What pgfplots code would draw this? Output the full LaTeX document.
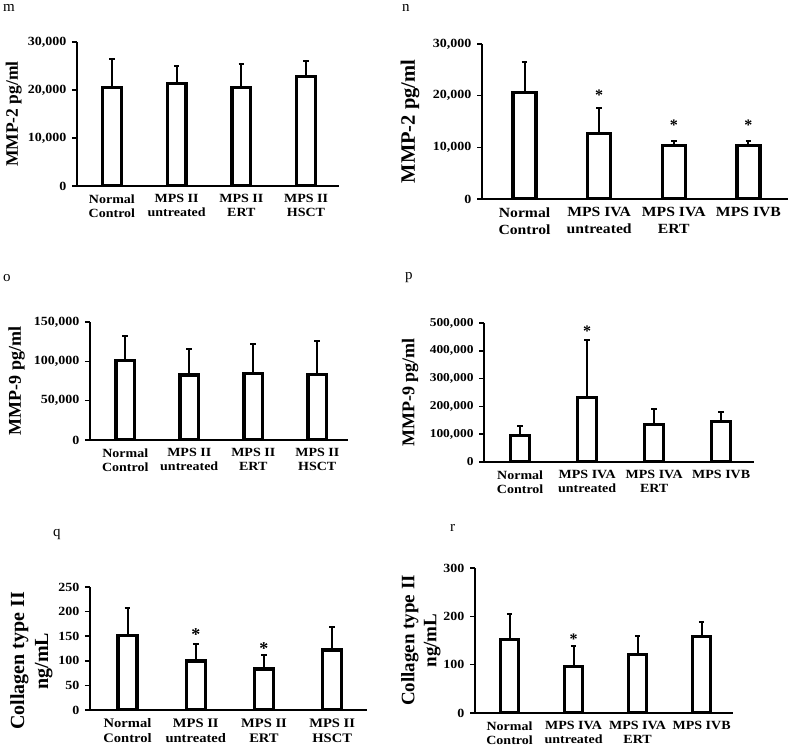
\documentclass[border=0pt]{standalone}
\usepackage{fontspec}
\setmainfont{Liberation Serif}
\newfontfamily\wfont{Liberation Serif}[FakeStretch=1.12]
\usepackage{pgfplots}
\pgfplotsset{compat=1.18}
\newcommand\fnt[2]{\wfont\bfseries\fontsize{#1}{#2}\selectfont}
\newcommand\lfnt[2]{\bfseries\fontsize{#1}{#2}\selectfont}
\pgfplotsset{
  panel/.style={
    scale only axis, anchor=south west,
    axis lines=left, axis line style={-, line width=1.8pt},
    tick align=outside, major tick length=5pt,
    ytick style={line width=1.5pt, black},
    xtick style={draw=none},
    xtick={0,1,2,3},
    ymin=0,
    scaled y ticks=false,
    yticklabel shift=2pt,
    yticklabel style={/pgf/number format/fixed, /pgf/number format/1000 sep={,}, /pgf/number format/assume math mode=true},
    xticklabel style={align=center},
  },
  ylab/.style n args={3}{every axis y label/.style={at={(rel axis cs:0,#2)}, xshift=-#1pt, rotate=90, anchor=center, align=center, font=#3}},
  bars/.style={ybar, bar width=#1, fill=white, draw=black, line width=3.3pt,
    error bars/.cd, y dir=plus, y explicit,
    error bar style={line width=2pt, black},
    error mark options={rotate=90, line width=2pt, mark size=2.8pt, black}},
  stars/.style={only marks, mark=text, text mark={*}, text mark as node=true, text mark style={font=#1, inner sep=0pt, anchor=center}},
}
\begin{document}
\begin{tikzpicture}
\path[use as bounding box] (0pt,0pt) rectangle (790pt,-752pt);
% panel letters
\node[anchor=base west, inner sep=0pt, font=\fontsize{15}{15}\selectfont] at (3pt,-12pt) {m};
\node[anchor=base west, inner sep=0pt, font=\fontsize{15}{15}\selectfont] at (402pt,-12pt) {n};
\node[anchor=base west, inner sep=0pt, font=\fontsize{15}{15}\selectfont] at (3pt,-281pt) {o};
\node[anchor=base west, inner sep=0pt, font=\fontsize{15}{15}\selectfont] at (405pt,-279pt) {p};
\node[anchor=base west, inner sep=0pt, font=\fontsize{15}{15}\selectfont] at (53pt,-536.7pt) {q};
\node[anchor=base west, inner sep=0pt, font=\fontsize{15}{15}\selectfont] at (450pt,-531.7pt) {r};

% m
\begin{axis}[panel, at={(77pt,-186pt)}, width=262pt, height=144pt,
  xmin=-0.54, xmax=3.51, ymax=30000, ytick={0,10000,20000,30000},
  yticklabel style={font=\fnt{12.5}{13}},
  xticklabel style={font=\fnt{12.5}{14}},
  xticklabels={Normal\\Control, MPS II\\untreated, MPS II\\ERT, MPS II\\HSCT},
  ylab={63.3}{0.5}{\lfnt{17.5}{20}}, ylabel={MMP-2 pg/ml}]
\addplot[bars=0.29] coordinates {(0,20590) +- (0,5800) (1,21285) +- (0,3650) (2,20450) +- (0,4970) (3,22740) +- (0,3370)};
\end{axis}

% n
\begin{axis}[panel, at={(482pt,-199pt)}, width=306pt, height=155pt,
  xmin=-0.57, xmax=3.53, ymax=30000, ytick={0,10000,20000,30000},
  yticklabel style={font=\fnt{12.5}{14}},
  xticklabel style={font=\fnt{14}{17}},
  xticklabels={Normal\\Control, MPS IVA\\untreated, MPS IVA\\ERT, MPS IVB},
  ylab={72}{0.5}{\lfnt{20.5}{23}}, ylabel={MMP-2 pg/ml}]
\addplot[bars=0.31] coordinates {(0,20550) +- (0,6030) (1,12740) +- (0,4870) (2,10420) +- (0,740) (3,10420) +- (0,740)};
\addplot[stars=\lfnt{16}{16}] coordinates {(1,20129) (2,14258) (3,14258)};
\end{axis}

% o
\begin{axis}[panel, at={(90pt,-440pt)}, width=258pt, height=118pt,
  xmin=-0.55, xmax=3.48, ymax=150000, ytick={0,50000,100000,150000},
  yticklabel style={font=\fnt{12.5}{13}},
  xticklabel style={font=\fnt{12.5}{14}},
  xticklabels={Normal\\Control, MPS II\\untreated, MPS II\\ERT, MPS II\\HSCT},
  ylab={73.3}{0.5}{\lfnt{18}{20}}, ylabel={MMP-9 pg/ml}]
\addplot[bars=0.29] coordinates {(0,100770) +- (0,31060) (1,82600) +- (0,32750) (2,84290) +- (0,37400) (3,83445) +- (0,42890)};
\end{axis}

% p
\begin{axis}[panel, at={(484pt,-462pt)}, width=270pt, height=139pt,
  xmin=-0.54, xmax=3.49, ymax=500000, ytick={0,100000,200000,300000,400000,500000},
  yticklabel style={font=\fnt{12}{13}},
  xticklabel style={font=\fnt{12.5}{14}},
  xticklabels={Normal\\Control, MPS IVA\\untreated, MPS IVA\\ERT, MPS IVB},
  ylab={74}{0.5}{\lfnt{18}{20}}, ylabel={MMP-9 pg/ml}]
\addplot[bars=0.28] coordinates {(0,96520) +- (0,32980) (1,230810) +- (0,209240) (2,136090) +- (0,53360) (3,144480) +- (0,36575)};
\addplot[stars=\lfnt{16}{16}] coordinates {(1,470000)};
\end{axis}

% q
\begin{axis}[panel, at={(90pt,-710pt)}, width=277pt, height=123pt,
  xmin=-0.55, xmax=3.51, ymax=250, ytick={0,50,100,150,200,250},
  yticklabel style={font=\fnt{12.5}{13}},
  xticklabel style={font=\fnt{13}{15}},
  xticklabels={Normal\\Control, MPS II\\untreated, MPS II\\ERT, MPS II\\HSCT},
  ylab={58.5}{0.398}{\lfnt{20}{24}}, ylabel={Collagen type II\\ng/mL}]
\addplot[bars=0.28] coordinates {(0,151) +- (0,55.8) (1,99.7) +- (0,35.3) (2,83.5) +- (0,28.5) (3,122) +- (0,47)};
\addplot[stars=\lfnt{18}{18}] coordinates {(1,154) (2,125)};
\end{axis}

% r
\begin{axis}[panel, at={(475pt,-713pt)}, width=258pt, height=145pt,
  xmin=-0.54, xmax=3.49, ymax=300, ytick={0,100,200,300},
  yticklabel style={font=\fnt{12.5}{13}},
  xticklabel style={font=\fnt{12.5}{14}},
  xticklabels={Normal\\Control, MPS IVA\\untreated, MPS IVA\\ERT, MPS IVB},
  ylab={54}{0.5}{\lfnt{19}{22}}, ylabel={Collagen type II\\ng/mL}]
\addplot[bars=0.28] coordinates {(0,151.9) +- (0,53.6) (1,95.5) +- (0,43.8) (2,120.9) +- (0,39.1) (3,158.9) +- (0,30.1)};
\addplot[stars=\lfnt{16}{16}] coordinates {(1,151.7)};
\end{axis}
\end{tikzpicture}
\end{document}
